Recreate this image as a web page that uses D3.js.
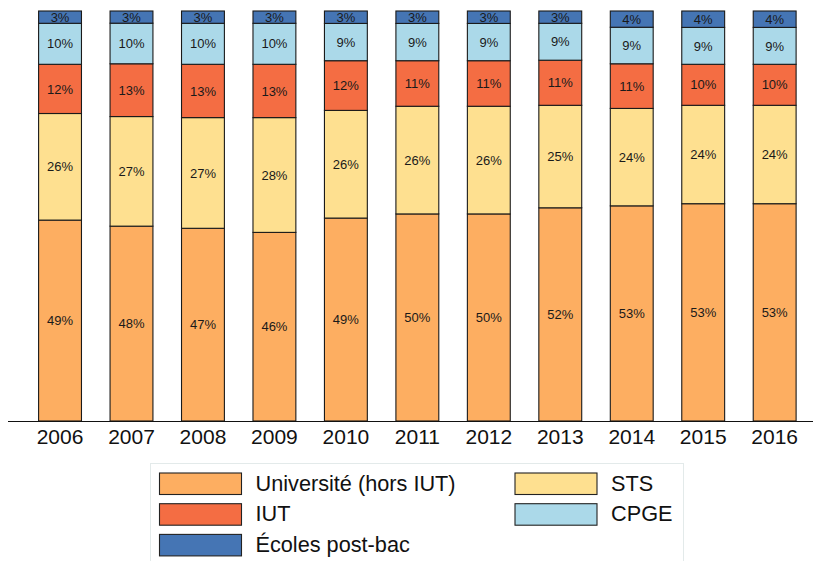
<!DOCTYPE html>
<html>
<head>
<meta charset="utf-8">
<script src="https://cdn.jsdelivr.net/npm/d3@7/dist/d3.min.js"></script>
<style>
  html, body { margin: 0; padding: 0; background: #fff; }
  svg { display: block; font-family: "Liberation Sans", Arial, sans-serif; }
</style>
</head>
<body>
<svg id="chart" width="814" height="561"></svg>
<script>
// Répartition des effectifs par filière (en %)
const years = ["2006", "2007", "2008", "2009", "2010", "2011", "2012", "2013", "2014", "2015", "2016"];
const universite = [49, 48, 47, 46, 49, 50, 50, 52, 53, 53, 53];
const sts        = [26, 27, 27, 28, 26, 26, 26, 25, 24, 24, 24];
const iut        = [12, 13, 13, 13, 12, 11, 11, 11, 11, 10, 10];
const cpge       = [10, 10, 10, 10, 9, 9, 9, 9, 9, 9, 9];
const ecoles     = [3, 3, 3, 3, 3, 3, 3, 3, 4, 4, 4];

const seriesKeys   = ["universite", "sts", "iut", "cpge", "ecoles"];
const seriesNames  = ["Université (hors IUT)", "STS", "IUT", "CPGE", "Écoles post-bac"];
const seriesColors = ["#fdae61", "#fee090", "#f46d43", "#abd9e9", "#4575b4"];
const seriesValues = [universite, sts, iut, cpge, ecoles];

const rows = years.map((yr, i) => {
  const r = { year: yr };
  seriesKeys.forEach((k, j) => { r[k] = seriesValues[j][i]; });
  return r;
});

const svg = d3.select("#chart");
const plotTop = 11, plotBottom = 421;

const x = d3.scaleBand().domain(years).range([24.3, 810.4]).paddingInner(0.4).paddingOuter(0.2);
const y = d3.scaleLinear().domain([0, 1]).range([plotBottom, plotTop]);
const color = d3.scaleOrdinal().domain(seriesKeys).range(seriesColors);

const stacked = d3.stack().keys(seriesKeys).offset(d3.stackOffsetExpand)(rows);

const layers = svg.append("g").selectAll("g")
  .data(stacked).join("g")
  .attr("fill", d => color(d.key));

layers.selectAll("rect")
  .data(d => d.map(p => Object.assign(p, { key: d.key })))
  .join("rect")
  .attr("x", d => x(d.data.year))
  .attr("width", x.bandwidth())
  .attr("y", d => y(d[1]))
  .attr("height", d => y(d[0]) - y(d[1]))
  .attr("stroke", "#1a1a1a")
  .attr("stroke-width", 1.1);

// valeurs au centre de chaque segment
layers.selectAll("text")
  .data(d => d)
  .join("text")
  .attr("x", d => x(d.data.year) + x.bandwidth() / 2)
  .attr("y", d => (y(d[0]) + y(d[1])) / 2)
  .attr("dy", "0.36em")
  .attr("text-anchor", "middle")
  .attr("font-size", 13)
  .attr("fill", "#1a1a1a")
  .text(d => d.data[d.key] + "%");

// axe des abscisses
const xAxis = svg.append("g")
  .attr("transform", `translate(0,${plotBottom})`)
  .call(d3.axisBottom(x).tickSize(0).tickPadding(8));
xAxis.select(".domain").remove();
xAxis.selectAll("text")
  .attr("font-size", 21)
  .attr("fill", "#111")
  .attr("font-family", "'Liberation Sans', Arial, sans-serif");
svg.append("line")
  .attr("x1", 8).attr("x2", 813)
  .attr("y1", plotBottom + 0.5).attr("y2", plotBottom + 0.5)
  .attr("stroke", "#111").attr("stroke-width", 1.2);

// légende
const legend = svg.append("g");
legend.append("rect")
  .attr("x", 150.5).attr("y", 463.5)
  .attr("width", 533).attr("height", 110)
  .attr("fill", "#fff")
  .attr("stroke", "#e3eaea");

const legendOrder = [
  { i: 0, col: 0, row: 0 }, { i: 2, col: 0, row: 1 }, { i: 4, col: 0, row: 2 },
  { i: 1, col: 1, row: 0 }, { i: 3, col: 1, row: 1 }
];
const colX = [159.5, 515];
legendOrder.forEach(o => {
  const gx = colX[o.col], gy = 473 + o.row * 30.7;
  legend.append("rect")
    .attr("x", gx).attr("y", gy)
    .attr("width", 82).attr("height", 21.5)
    .attr("fill", seriesColors[o.i])
    .attr("stroke", "#222").attr("stroke-width", 1.1);
  legend.append("text")
    .attr("x", gx + 96).attr("y", gy + 17.6)
    .attr("font-size", 21.7)
    .attr("fill", "#111")
    .text(seriesNames[o.i]);
});
</script>
</body>
</html>
